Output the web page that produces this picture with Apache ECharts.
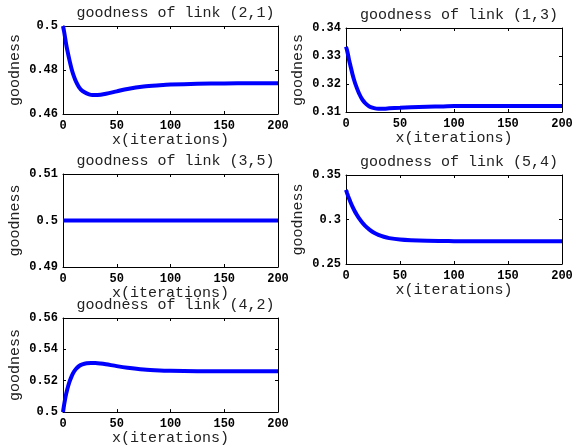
<!DOCTYPE html>
<html>
<head>
<meta charset="utf-8">
<title>goodness of links</title>
<script src="https://cdn.jsdelivr.net/npm/echarts@6/dist/echarts.min.js"></script>
<style>
  html, body { margin: 0; padding: 0; background: #fff; }
  #chart { width: 579px; height: 447px; }
</style>
</head>
<body>
<div id="chart"></div>
<script>
const iterations = [0, 1, 2, 3, 4, 6, 8, 10, 12, 15, 18, 22, 26, 30, 35, 40, 50, 60, 75, 90, 100, 125, 150, 175, 200]

const link21 = [0.5, 0.4975, 0.4945, 0.4915, 0.489, 0.4845, 0.4805, 0.4773, 0.4748, 0.4721, 0.4705, 0.4694, 0.4687, 0.4686, 0.4688, 0.4692, 0.4703, 0.4714, 0.4725, 0.4731, 0.4734, 0.4737, 0.4739, 0.474, 0.474]
const link13 = [0.3333, 0.332, 0.3302, 0.3283, 0.3267, 0.3235, 0.3208, 0.3186, 0.3167, 0.3145, 0.3131, 0.3119, 0.3114, 0.3112, 0.3112, 0.3113, 0.3115, 0.3117, 0.3119, 0.312, 0.3121, 0.3121, 0.3121, 0.3121, 0.3121]
const link35 = [0.5, 0.5, 0.5, 0.5, 0.5, 0.5, 0.5, 0.5, 0.5, 0.5, 0.5, 0.5, 0.5, 0.5, 0.5, 0.5, 0.5, 0.5, 0.5, 0.5, 0.5, 0.5, 0.5, 0.5, 0.5]
const link54 = [0.3333, 0.3297, 0.3263, 0.3231, 0.32, 0.3145, 0.3096, 0.3053, 0.3015, 0.2966, 0.2926, 0.2884, 0.2851, 0.2828, 0.2806, 0.2791, 0.2774, 0.2766, 0.276, 0.2758, 0.2757, 0.2757, 0.2757, 0.2757, 0.2757]
const link42 = [0.5, 0.5045, 0.5085, 0.5118, 0.5146, 0.5192, 0.5228, 0.5255, 0.5275, 0.5294, 0.5304, 0.5311, 0.5313, 0.5313, 0.531, 0.5305, 0.5293, 0.5283, 0.5272, 0.5266, 0.5264, 0.5261, 0.526, 0.526, 0.526]

const titles = ['goodness of link (2,1)', 'goodness of link (1,3)', 'goodness of link (3,5)', 'goodness of link (5,4)', 'goodness of link (4,2)']
const seriesData = [link21, link13, link35, link54, link42]
// y axis ranges [min, max, interval]
const yRanges = [[0.46, 0.5, 0.02], [0.31, 0.34, 0.01], [0.49, 0.51, 0.01], [0.25, 0.35, 0.05], [0.5, 0.56, 0.02]]
const xRange = [0, 200, 50]

// layout of each subplot box in px
const boxes = [
  { left: 63, top: 26, width: 215, height: 88 },
  { left: 346, top: 28, width: 216, height: 84 },
  { left: 63, top: 174, width: 215, height: 93 },
  { left: 346, top: 175, width: 216, height: 89 },
  { left: 63, top: 318, width: 215, height: 97 }
]

const monoFont = '"Liberation Mono", "DejaVu Sans Mono", monospace'
const chart = echarts.init(document.getElementById('chart'))

const grid = []
const title = []
const xAxis = []
const yAxis = []
const series = []

const lineStyle = { color: '#000', width: 1 }

boxes.forEach((b, i) => {
  grid.push({ left: b.left, top: b.top, width: b.width, height: b.height, show: false })
  title.push({
    text: titles[i],
    left: b.left + b.width / 2,
    top: b.top - 25,
    textAlign: 'center',
    textStyle: { fontFamily: monoFont, fontSize: 15, fontWeight: 'normal', color: '#222' }
  })
  const yr = yRanges[i]
  // bottom x axis with labels
  xAxis.push({
    type: 'value',
    gridIndex: i,
    position: 'bottom',
    min: xRange[0],
    max: xRange[1],
    interval: xRange[2],
    name: 'x(iterations)',
    nameLocation: 'middle',
    nameGap: 15,
    nameTextStyle: { fontFamily: monoFont, fontSize: 15, color: '#222' },
    axisLine: { show: true, onZero: false, lineStyle },
    axisTick: { show: true, inside: true, length: 3, lineStyle },
    axisLabel: { fontFamily: monoFont, fontSize: 12, fontWeight: 'bold', color: '#000', margin: 6 },
    splitLine: { show: false }
  })
  // top mirror axis
  xAxis.push({
    type: 'value',
    gridIndex: i,
    position: 'top',
    min: xRange[0],
    max: xRange[1],
    interval: xRange[2],
    axisLine: { show: true, onZero: false, lineStyle },
    axisTick: { show: true, inside: true, length: 3, lineStyle },
    axisLabel: { show: false },
    splitLine: { show: false }
  })
  yAxis.push({
    type: 'value',
    gridIndex: i,
    position: 'left',
    min: yr[0],
    max: yr[1],
    interval: yr[2],
    name: 'goodness',
    nameLocation: 'middle',
    nameGap: 40,
    nameTextStyle: { fontFamily: monoFont, fontSize: 15, color: '#222' },
    axisLine: { show: true, onZero: false, lineStyle },
    axisTick: { show: true, inside: true, length: 3, lineStyle },
    axisLabel: { fontFamily: monoFont, fontSize: 12, fontWeight: 'bold', color: '#000', margin: 5 },
    splitLine: { show: false }
  })
  yAxis.push({
    type: 'value',
    gridIndex: i,
    position: 'right',
    min: yr[0],
    max: yr[1],
    interval: yr[2],
    axisLine: { show: true, onZero: false, lineStyle },
    axisTick: { show: true, inside: true, length: 3, lineStyle },
    axisLabel: { show: false },
    splitLine: { show: false }
  })
  series.push({
    type: 'line',
    xAxisIndex: i * 2,
    yAxisIndex: i * 2,
    data: iterations.map((x, k) => [x, seriesData[i][k]]),
    smooth: 0.3,
    showSymbol: false,
    clip: true,
    lineStyle: { color: '#0000ff', width: 4 },
    animation: false
  })
})

chart.setOption({
  animation: false,
  title,
  grid,
  xAxis,
  yAxis,
  series
})
</script>
</body>
</html>
